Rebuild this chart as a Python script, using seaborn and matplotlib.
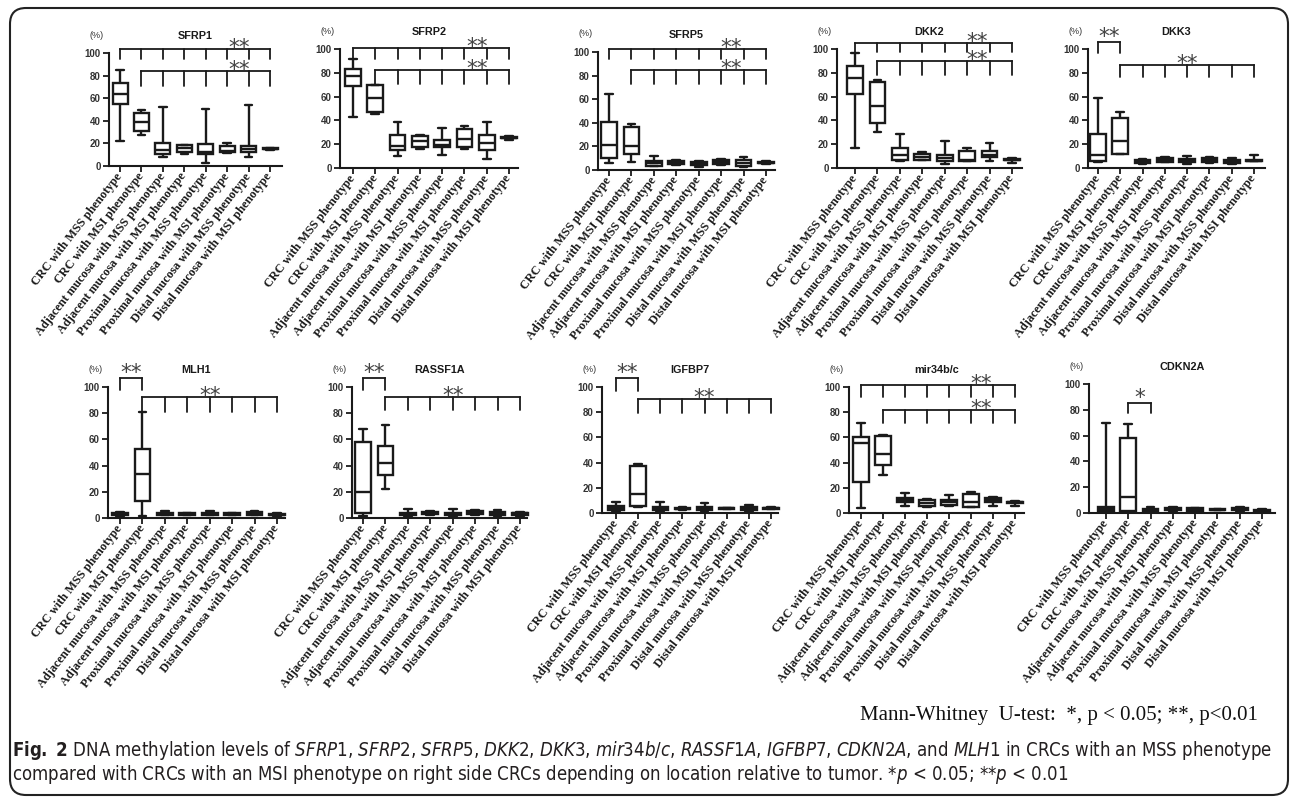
import matplotlib
matplotlib.use("Agg")
import matplotlib.pyplot as plt
import pandas as pd
import seaborn as sns
from matplotlib import font_manager
from matplotlib.patches import FancyBboxPatch
from matplotlib.transforms import IdentityTransform

groups = [
    "CRC with MSS phenotype",
    "CRC with MSI phenotype",
    "Adjacent mucosa with MSS phenotype",
    "Adjacent mucosa with MSI phenotype",
    "Proximal mucosa with MSS phenotype",
    "Proximal mucosa with MSI phenotype",
    "Distal mucosa with MSS phenotype",
    "Distal mucosa with MSI phenotype",
]

# methylation level (%) per group:
# whisker low, Q1, median, Q3, whisker high
sfrp1 = [(21.8, 54.6, 63.4, 73.7, 84.7), (27.7, 31.0, 38.9, 46.9, 49.9),
         (8.0, 10.3, 13.9, 20.4, 52.2), (11.0, 12.0, 15.5, 18.5, 19.0),
         (2.7, 10.5, 12.0, 19.8, 50.7), (11.5, 12.0, 13.0, 18.0, 20.0),
         (8.0, 12.4, 15.3, 17.7, 53.7), (14.5, 15.0, 15.3, 15.7, 16.0)]
sfrp2 = [(42.9, 68.6, 77.0, 83.5, 91.6), (45.7, 47.0, 58.8, 69.5, 70.0),
         (9.8, 15.4, 18.5, 28.0, 38.7), (16.0, 17.4, 22.4, 26.6, 27.5),
         (10.6, 17.6, 19.6, 23.8, 33.6), (16.2, 17.4, 24.4, 33.0, 35.6),
         (7.6, 15.4, 21.0, 27.5, 38.7), (23.5, 25.0, 25.5, 26.0, 27.0)]
sfrp5 = [(6.2, 9.9, 21.1, 40.8, 64.0), (7.0, 13.5, 20.6, 36.6, 39.4),
         (3.4, 3.7, 5.6, 7.9, 12.1), (4.2, 4.8, 6.2, 7.9, 8.5),
         (2.8, 4.2, 5.6, 7.0, 7.9), (4.2, 4.8, 6.5, 8.5, 9.3),
         (2.8, 3.7, 6.2, 8.5, 11.3), (5.0, 5.6, 6.2, 6.8, 7.6)]
dkk2 = [(16.8, 62.5, 75.6, 86.0, 96.6), (30.0, 37.8, 51.8, 72.3, 73.7),
        (5.6, 7.0, 11.2, 16.8, 28.6), (6.4, 7.0, 9.2, 12.0, 13.2),
        (3.6, 5.6, 8.4, 11.2, 23.0), (5.6, 6.2, 7.0, 14.0, 16.8),
        (6.2, 9.2, 11.2, 14.0, 21.0), (4.2, 6.4, 7.0, 7.6, 8.4)]
dkk3 = [(4.8, 6.2, 11.2, 28.6, 58.8), (11.5, 12.0, 23.0, 41.7, 46.8),
        (3.4, 4.2, 5.6, 6.7, 7.6), (4.8, 5.3, 7.0, 8.1, 9.0),
        (3.4, 4.8, 6.2, 7.6, 10.4), (4.5, 5.0, 6.7, 8.1, 9.0),
        (3.4, 3.9, 5.3, 6.7, 8.1), (5.8, 6.0, 6.2, 6.4, 11.2)]
mlh1 = [(1.8, 2.5, 3.2, 3.8, 4.5), (1.3, 13.2, 33.6, 52.7, 80.9),
        (2.0, 2.5, 3.0, 3.8, 5.0), (2.0, 2.5, 3.0, 3.5, 4.0),
        (2.0, 2.5, 3.2, 4.0, 5.0), (2.0, 2.4, 3.0, 3.5, 4.0),
        (2.0, 2.6, 3.4, 4.2, 5.0), (1.5, 2.0, 2.5, 3.0, 3.5)]
rassf1a = [(1.5, 3.8, 20.0, 57.8, 67.8), (22.0, 33.2, 41.7, 55.0, 71.0),
           (1.0, 2.0, 3.0, 4.0, 7.0), (2.0, 2.8, 3.5, 4.3, 5.0),
           (1.0, 2.0, 3.0, 4.0, 6.5), (2.5, 3.0, 4.0, 5.3, 6.0),
           (1.5, 2.5, 3.5, 4.5, 6.0), (1.5, 2.5, 3.5, 4.0, 4.5)]
igfbp7 = [(1.3, 2.1, 4.0, 5.8, 8.7), (4.5, 5.3, 15.0, 37.0, 38.5),
          (1.0, 2.0, 3.5, 5.0, 8.5), (2.5, 3.0, 3.5, 4.0, 4.5),
          (1.5, 2.5, 4.0, 5.0, 8.0), (3.0, 3.3, 3.7, 4.0, 4.3),
          (1.5, 2.5, 3.5, 5.0, 6.5), (3.0, 3.3, 3.8, 4.2, 4.5)]
mir34bc = [(3.7, 24.3, 55.6, 60.3, 71.4), (30.4, 38.4, 47.0, 60.8, 62.0),
           (5.8, 8.5, 10.0, 11.9, 15.9), (4.8, 5.3, 8.0, 10.6, 11.1),
           (5.3, 6.6, 8.5, 10.0, 14.6), (4.5, 4.6, 8.5, 15.0, 16.4),
           (5.8, 8.5, 10.6, 11.9, 12.7), (5.8, 8.0, 8.5, 9.0, 9.5)]
cdkn2a = [(0.5, 1.8, 3.1, 4.4, 70.0), (0.5, 1.8, 12.4, 58.5, 68.8),
          (0.5, 1.5, 2.2, 3.0, 4.5), (1.0, 2.0, 3.0, 4.0, 4.5),
          (1.0, 1.8, 2.5, 3.5, 4.0), (2.0, 2.3, 2.7, 3.0, 3.3),
          (1.0, 2.0, 3.0, 4.0, 5.0), (1.0, 1.3, 1.8, 2.3, 3.0)]

# significance brackets: first group, last group, bar level, tick bottom, mark, mark x
sfrp1_sig = [(0, 7, 103.5, 95.0, "**", 5.55), (1, 7, 84.0, 71.0, "**", 5.55)]
sfrp2_sig = [(0, 7, 101.0, 92.0, "**", 5.55), (1, 7, 82.4, 70.6, "**", 5.55)]
sfrp5_sig = [(0, 7, 102.5, 94.0, "**", 5.45), (1, 7, 84.7, 72.9, "**", 5.45)]
dkk2_sig = [(0, 7, 105.0, 97.5, "**", 5.45), (1, 7, 90.0, 78.0, "**", 5.45)]
dkk3_sig = [(0, 1, 105.9, 96.6, "**", 0.5), (1, 7, 86.5, 76.5, "**", 4.0)]
mlh1_sig = [(0, 1, 106.9, 97.7, "**", 0.5), (1, 7, 92.4, 81.0, "**", 4.0)]
rassf1a_sig = [(0, 1, 106.9, 97.7, "**", 0.5), (1, 7, 92.4, 82.4, "**", 4.0)]
igfbp7_sig = [(0, 1, 107.0, 96.5, "**", 0.5), (1, 7, 90.5, 79.0, "**", 4.0)]
mir34bc_sig = [(0, 7, 101.6, 92.0, "**", 5.45), (1, 7, 81.7, 71.4, "**", 5.45)]
cdkn2a_sig = [(1, 2, 85.0, 77.5, "*", 1.5)]

titles = ["SFRP1", "SFRP2", "SFRP5", "DKK2", "DKK3",
          "MLH1", "RASSF1A", "IGFBP7", "mir34b/c", "CDKN2A"]
values = [sfrp1, sfrp2, sfrp5, dkk2, dkk3, mlh1, rassf1a, igfbp7, mir34bc, cdkn2a]
sigs = [sfrp1_sig, sfrp2_sig, sfrp5_sig, dkk2_sig, dkk3_sig,
        mlh1_sig, rassf1a_sig, igfbp7_sig, mir34bc_sig, cdkn2a_sig]

# panel frames in pixels: y-spine x, first box x, last box x, x-axis end, y=0 row, y=100 row
layout = [
    (109, 120, 270, 282, 166, 53),
    (340, 353, 509, 518, 168, 49),
    (598, 609, 766, 775, 170, 52),
    (837, 855, 1012, 1022, 168, 49),
    (1088, 1098, 1254, 1265, 168, 49),
    (108, 120, 277, 285, 518, 387),
    (352, 363, 520, 527, 518, 387),
    (602, 616, 771, 778, 513, 387),
    (849, 861, 1015, 1024, 513, 387),
    (1089, 1106, 1262, 1275, 513, 384),
]

W, H = 1292, 801
INK = "#1a1a1a"

sns.set_style("ticks")
plt.rcParams["font.family"] = ["Liberation Sans", "DejaVu Sans"]

fig = plt.figure(figsize=(W / 100, H / 100), dpi=100)

for title, vals, sig, (sx, fx, lx, ex, y0, y100) in zip(titles, values, sigs, layout):
    sp = (lx - fx) / 7
    ax = fig.add_axes([sx / W, 1 - y0 / H, (ex - sx) / W, (y0 - y100) / H])
    df = pd.DataFrame([(g, v) for g, five in zip(groups, vals) for v in five],
                      columns=["group", "pct"])
    sns.boxplot(data=df, x="group", y="pct", order=groups, whis=(0, 100),
                width=0.7, color="white", linecolor=INK, linewidth=1.7,
                showfliers=False, ax=ax)
    for art in ax.patches + ax.lines:
        art.set_clip_on(False)
    ax.set_xlim((sx - fx) / sp, 7 + (ex - lx) / sp)
    ax.set_ylim(0, 100)
    ax.set(xlabel="", ylabel="")
    ax.set_yticks([0, 20, 40, 60, 80, 100])
    ax.set_yticklabels(["0", "20", "40", "60", "80", "100"],
                       fontsize=7, fontweight="bold", color="#333333")
    ax.set_xticks(range(8))
    ax.set_xticklabels(groups, rotation=52, ha="right", va="center",
                       rotation_mode="anchor", fontsize=8.8,
                       family="Liberation Serif", fontweight="bold", color=INK)
    ax.tick_params(axis="both", length=4, width=1.3, color=INK, pad=2)
    sns.despine(ax=ax)
    for s in ("left", "bottom"):
        ax.spines[s].set_linewidth(1.5)
        ax.spines[s].set_color(INK)

    ax.annotate(title, xy=(0.5, 1), xycoords="axes fraction", xytext=(0, 17),
                textcoords="offset pixels", ha="center", va="center",
                fontsize=7.8, fontweight="bold", color=INK)
    ax.annotate("(%)", xy=(0, 1), xycoords="axes fraction", xytext=(-12, 18),
                textcoords="offset pixels", ha="center", va="center",
                fontsize=6.5, color="#333333")

    for a, b, lvl, bottom, mark, mx in sig:
        ax.plot([a, b], [lvl, lvl], color=INK, lw=1.3, clip_on=False,
                solid_capstyle="projecting")
        for x in range(a, b + 1):
            ax.plot([x, x], [lvl, bottom], color=INK, lw=1.3, clip_on=False)
        lift = 0 if b - a > 1 else 4
        ax.annotate(mark, xy=(mx, lvl), xytext=(0, -5 + lift),
                    textcoords="offset pixels", ha="center", va="baseline",
                    fontsize=15.5, family="DejaVu Sans", color="#444444",
                    annotation_clip=False)

# legend note for the tests
note = fig.text(1258 / W, 1 - 720 / H,
                "Mann-Whitney  U-test:  *, p < 0.05; **, p<0.01",
                ha="right", va="baseline", fontsize=13.5,
                family="Liberation Serif", color="#111111")

# caption, in a narrow sans when one is installed
narrow = None
for f in font_manager.fontManager.ttflist:
    if f.style != "normal" or f.weight != 400:
        continue
    if f.stretch in ("condensed", "semi-condensed") or "Narrow" in f.name:
        narrow = (f.name, f.stretch)
        if "Liberation" in f.name or "DejaVu" in f.name:
            break
cap_family, cap_stretch = narrow if narrow else ("DejaVu Sans", "normal")
suffix = ""
if cap_stretch in ("condensed", "semi-condensed"):
    suffix = ":stretch=" + cap_stretch
plt.rcParams.update({
    "mathtext.fontset": "custom",
    "mathtext.rm": cap_family + suffix,
    "mathtext.it": cap_family + ":italic" + suffix,
    "mathtext.bf": cap_family + ":bold" + suffix,
})
line1 = (r"$\mathbf{Fig.\ 2}$ DNA methylation levels of $\mathit{SFRP1}$, "
         r"$\mathit{SFRP2}$, $\mathit{SFRP5}$, $\mathit{DKK2}$, $\mathit{DKK3}$, "
         r"$\mathit{mir34b/c}$, $\mathit{RASSF1A}$, $\mathit{IGFBP7}$, "
         r"$\mathit{CDKN2A}$, and $\mathit{MLH1}$ in CRCs with an MSS phenotype")
line2 = (r"compared with CRCs with an MSI phenotype on right side CRCs depending "
         r"on location relative to tumor. *$\mathit{p}$ < 0.05; **$\mathit{p}$ < 0.01")
t1 = fig.text(12 / W, 1 - 756 / H, line1, fontsize=12, family=cap_family,
              fontstretch=cap_stretch, va="baseline", color="#231f20")
t2 = fig.text(12 / W, 1 - 780 / H, line2, fontsize=12, family=cap_family,
              fontstretch=cap_stretch, va="baseline", color="#231f20")

fig.canvas.draw()
r = fig.canvas.get_renderer()
k = 1260 / t1.get_window_extent(renderer=r).width
t1.set_fontsize(12 * k)
t2.set_fontsize(12 * k)
kn = 398 / note.get_window_extent(renderer=r).width
note.set_fontsize(13.5 * kn)

frame = FancyBboxPatch((10, 6), 1278, 787, boxstyle="round,pad=0,rounding_size=16",
                       transform=IdentityTransform(), fill=False, lw=1.5, ec="#222222")
fig.add_artist(frame)

fig.savefig("out.png", dpi=100)
